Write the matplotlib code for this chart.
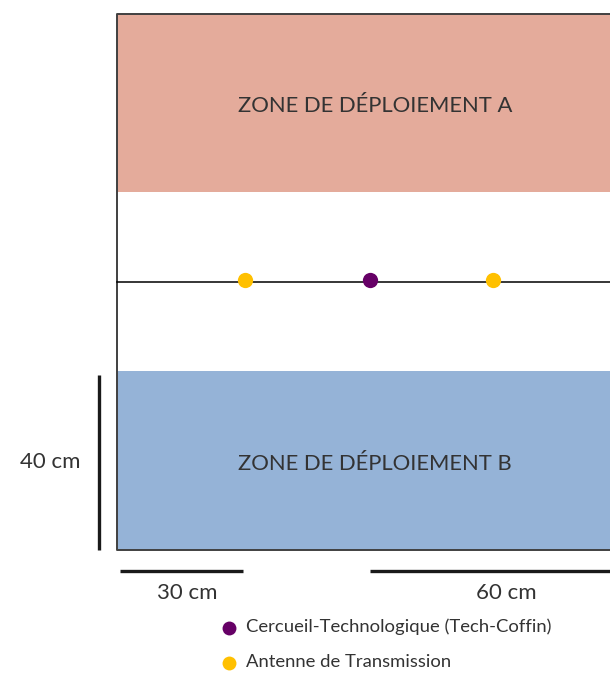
import matplotlib
matplotlib.use('Agg')
import matplotlib.pyplot as plt
from matplotlib.patches import Rectangle

plt.rcParams['font.family'] = ['Lato', 'DejaVu Sans']

# diagram layout, in pixels of the original drawing
board_left, board_top, board_bottom, board_right = 117, 14, 550, 615
zone_names = ['ZONE DE DÉPLOIEMENT A', 'ZONE DE DÉPLOIEMENT B']
zone_top = [14, 371]
zone_bottom = [192, 550]
zone_colors = ['#e4ab9b', '#95b3d7']

line_y = 282
obj_x = [245, 370, 493]
obj_kind = ['Antenne de Transmission', 'Cercueil-Technologique (Tech-Coffin)', 'Antenne de Transmission']
kind_colors = {'Cercueil-Technologique (Tech-Coffin)': '#660066',
               'Antenne de Transmission': '#ffc000'}
legend_order = ['Cercueil-Technologique (Tech-Coffin)', 'Antenne de Transmission']
legend_y = [628, 663]

# scale bars: label, (x0, y0, x1, y1), label position
bars = [('40 cm', (99, 375, 99, 550), (50, 462)),
        ('30 cm', (120, 571, 243, 571), (187, 593)),
        ('60 cm', (370, 571, 615, 571), (506, 593))]

fig = plt.figure(figsize=(6.10, 6.73), dpi=100)
ax = fig.add_axes([0, 0, 1, 1])
ax.set_xlim(0, 610)
ax.set_ylim(673, 0)
ax.axis('off')

txt = '#333333'
for name, t, b, c in zip(zone_names, zone_top, zone_bottom, zone_colors):
    ax.add_patch(Rectangle((board_left, t), board_right - board_left, b - t,
                           facecolor=c, edgecolor='none', zorder=1))
    ax.text(375, (t + b) / 2 + 3, name, ha='center', va='center',
            fontsize=15.8, color=txt, zorder=3)

# board outline
ax.plot([board_right, board_left, board_left, board_right],
        [board_top, board_top, board_bottom, board_bottom],
        color='#404040', lw=1.4, zorder=2, solid_capstyle='butt')

ax.plot([board_left, board_right], [line_y, line_y], color='black', lw=1.1, zorder=2)
for x, k in zip(obj_x, obj_kind):
    ax.plot(x, line_y - 2, 'o', ms=11, color=kind_colors[k], mec='none', zorder=4)

for label, (x0, y0, x1, y1), (tx, ty) in bars:
    ax.plot([x0, x1], [y0, y1], color='#1a1a1a', lw=2.4, solid_capstyle='butt')
    ax.text(tx, ty, label, ha='center', va='center', fontsize=16, color=txt)

for k, y in zip(legend_order, legend_y):
    ax.plot(229, y, 'o', ms=10, color=kind_colors[k], mec='none')
    ax.text(246, y - 1, k, ha='left', va='center', fontsize=13.3, color=txt)

plt.savefig('out.png', dpi=100)
